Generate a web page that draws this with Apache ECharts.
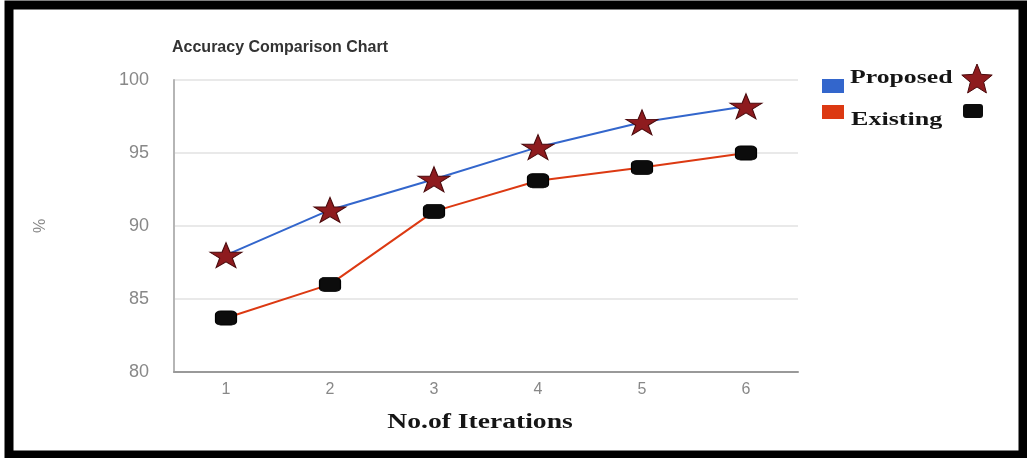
<!DOCTYPE html>
<html>
<head>
<meta charset="utf-8">
<script src="https://cdn.jsdelivr.net/npm/echarts@6/dist/echarts.min.js"></script>
<style>
  html, body { margin: 0; padding: 0; background: #fff; }
  #chart { width: 1027px; height: 458px; }
</style>
</head>
<body>
<div id="chart"></div>
<script>
// Accuracy (%) per iteration for the two methods
const iterations = ['1', '2', '3', '4', '5', '6'];
const proposed = [88.0, 91.1, 93.2, 95.4, 97.1, 98.2];
const existing = [83.7, 86.0, 91.0, 93.1, 94.0, 95.0];
const yTicks = { min: 80, max: 100, interval: 5 };

const BLUE = '#3366cc';
const RED = '#dc3912';
const STAR = '#8e1b1e';
const serif = '"Liberation Serif", "DejaVu Serif", serif';
const sans = 'Arial, "Liberation Sans", sans-serif';
const STAR_PATH = 'path://M50,0 L61.8,34.5 L97.6,34.5 L68.8,55.9 L79.4,90.5 L50,69.1 L20.6,90.5 L31.2,55.9 L2.4,34.5 L38.2,34.5 Z';

// five-pointed star outline for the legend sample
function starPoints(cx, cy, rOut, rIn) {
  const pts = [];
  for (let i = 0; i < 10; i++) {
    const r = i % 2 === 0 ? rOut : rIn;
    const a = -Math.PI / 2 + i * Math.PI / 5;
    pts.push([cx + r * Math.cos(a), cy + r * Math.sin(a)]);
  }
  return pts;
}

// wide bold serif caption
function wideText(x, y, text, size, align, scaleX) {
  return {
    type: 'text', x: x, y: y, scaleX: scaleX,
    style: {
      text: text, fill: '#151515',
      font: 'bold ' + size + 'px ' + serif,
      textAlign: align, textVerticalAlign: 'middle'
    }
  };
}

const chart = echarts.init(document.getElementById('chart'));
chart.setOption({
  animation: false,
  backgroundColor: '#fff',
  title: {
    text: 'Accuracy Comparison Chart',
    left: 167, top: 35,
    textStyle: { fontFamily: sans, fontSize: 16, fontWeight: 'bold', color: '#333' }
  },
  grid: { left: 174, right: 229, top: 80, bottom: 86 },
  legend: { show: false },
  xAxis: {
    type: 'category',
    data: iterations,
    boundaryGap: true,
    axisLine: { lineStyle: { color: '#999', width: 2 } },
    axisTick: { show: false },
    axisLabel: { color: '#888', fontFamily: sans, fontSize: 16, margin: 10 }
  },
  yAxis: {
    type: 'value',
    min: yTicks.min, max: yTicks.max, interval: yTicks.interval,
    axisLine: { show: true, lineStyle: { color: '#b5b5b5', width: 2 } },
    axisTick: { show: false },
    splitLine: { lineStyle: { color: '#e2e2e2', width: 1.5 } },
    axisLabel: { color: '#888', fontFamily: sans, fontSize: 18, margin: 25 },
    name: '%',
    nameLocation: 'middle',
    nameGap: 125,
    nameRotate: 90,
    nameTextStyle: { color: '#888', fontFamily: sans, fontSize: 16 }
  },
  series: [
    {
      name: 'Proposed',
      type: 'line',
      data: proposed,
      lineStyle: { color: BLUE, width: 2 },
      symbol: STAR_PATH,
      symbolSize: [32, 25],
      itemStyle: { color: STAR, borderColor: '#4a0a0c', borderWidth: 1 },
      z: 3
    },
    {
      name: 'Existing',
      type: 'line',
      data: existing,
      lineStyle: { color: RED, width: 2 },
      symbol: 'roundRect',
      symbolSize: [21, 14],
      itemStyle: { color: '#0c0c0c', borderColor: '#000', borderWidth: 1 },
      z: 3
    }
  ],
  graphic: [
    // legend: colour keys, names and marker samples
    { type: 'rect', shape: { x: 822, y: 79, width: 22, height: 14 }, style: { fill: BLUE } },
    { type: 'rect', shape: { x: 822, y: 105, width: 22, height: 14 }, style: { fill: RED } },
    wideText(850, 78, 'Proposed', 18, 'left', 1.43),
    wideText(851, 120, 'Existing', 18, 'left', 1.45),
    {
      type: 'polygon',
      shape: { points: starPoints(977, 80, 16, 7) },
      style: { fill: STAR, stroke: '#4a0a0c', lineWidth: 1 }
    },
    {
      type: 'rect',
      shape: { x: 963, y: 104, width: 20, height: 14, r: 3 },
      style: { fill: '#0c0c0c' }
    },
    // x-axis caption
    wideText(480, 423, 'No.of Iterations', 20, 'center', 1.38),
    // frame around the chart
    {
      type: 'rect',
      shape: { x: 9, y: 5, width: 1014, height: 450 },
      style: { fill: 'none', stroke: '#000', lineWidth: 9 },
      silent: true
    }
  ]
});
</script>
</body>
</html>
